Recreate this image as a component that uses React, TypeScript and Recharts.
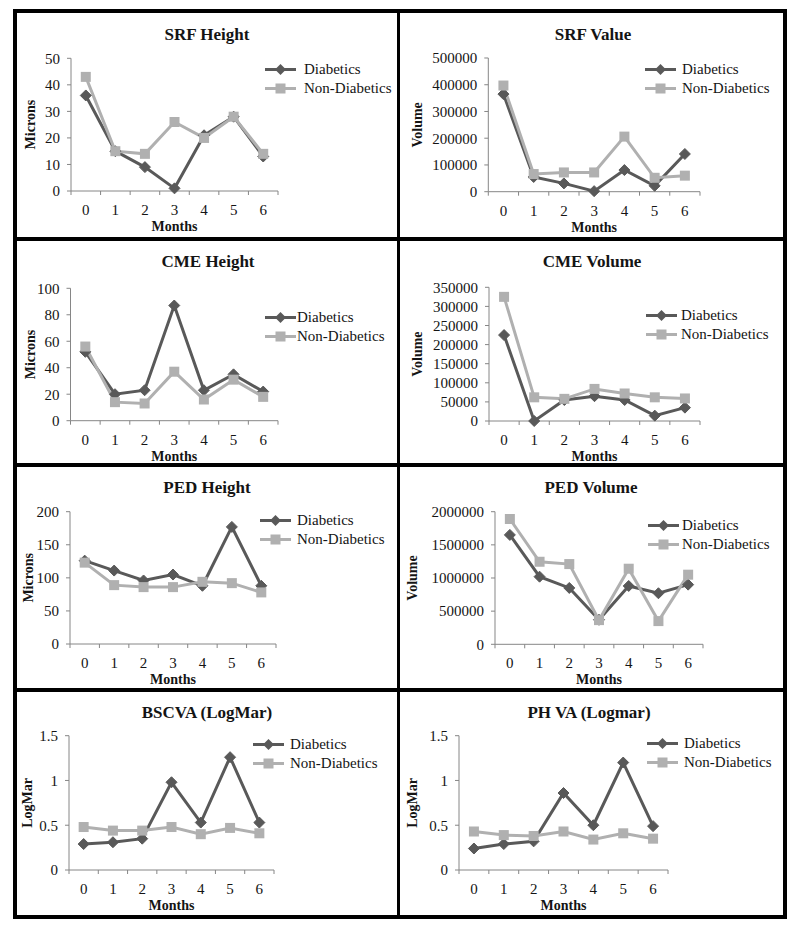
import React from 'react';
import { LineChart, Line, XAxis, YAxis, Legend } from 'recharts';

const FONT = "'Liberation Serif', 'Times New Roman', Times, serif";
const DARK = '#595959';
const LIGHT = '#b0b0b0';
const AXIS = '#868686';
const TEXT = '#141414';

// ---- data ----
const months = [0, 1, 2, 3, 4, 5, 6];
const bandEdges = [-0.5, 0.5, 1.5, 2.5, 3.5, 4.5, 5.5, 6.5];
const seriesNames = ['Diabetics', 'Non-Diabetics'];

const srfHeightDiabetic = [36, 15, 9, 1, 21, 28, 13];
const srfHeightNonDiabetic = [43, 15, 14, 26, 20, 28, 14];
const srfValueDiabetic = [365000, 55000, 31000, 2000, 81000, 22000, 141000];
const srfValueNonDiabetic = [397000, 66000, 72000, 72000, 206000, 52000, 60000];
const cmeHeightDiabetic = [52, 20, 23, 87, 23, 35, 22];
const cmeHeightNonDiabetic = [56, 14, 13, 37, 16, 31, 18];
const cmeVolumeDiabetic = [225000, 0, 55000, 65000, 55000, 14000, 35000];
const cmeVolumeNonDiabetic = [325000, 62000, 58000, 84000, 72000, 62000, 59000];
const pedHeightDiabetic = [126, 111, 96, 105, 88, 177, 88];
const pedHeightNonDiabetic = [123, 89, 86, 86, 94, 92, 78];
const pedVolumeDiabetic = [1650000, 1020000, 850000, 370000, 880000, 770000, 900000];
const pedVolumeNonDiabetic = [1890000, 1245000, 1210000, 365000, 1140000, 350000, 1050000];
const bscvaDiabetic = [0.29, 0.31, 0.35, 0.98, 0.53, 1.26, 0.53];
const bscvaNonDiabetic = [0.48, 0.44, 0.44, 0.48, 0.4, 0.47, 0.41];
const phvaDiabetic = [0.24, 0.29, 0.32, 0.86, 0.5, 1.2, 0.49];
const phvaNonDiabetic = [0.43, 0.39, 0.38, 0.43, 0.34, 0.41, 0.35];

const ticksSrfHeight = [0, 10, 20, 30, 40, 50];
const ticksSrfValue = [0, 100000, 200000, 300000, 400000, 500000];
const ticksCmeHeight = [0, 20, 40, 60, 80, 100];
const ticksCmeVolume = [0, 50000, 100000, 150000, 200000, 250000, 300000, 350000];
const ticksPedHeight = [0, 50, 100, 150, 200];
const ticksPedVolume = [0, 500000, 1000000, 1500000, 2000000];
const ticksLogMar = [0, 0.5, 1, 1.5];

// ---- layout (page coordinates) ----
const panels = [
  { title: 'SRF Height', yLabel: 'Microns', d: srfHeightDiabetic, nd: srfHeightNonDiabetic, yTicks: ticksSrfHeight,
    x0: 17, y0: 13, pl: 71, pr: 278, pt: 58.3, pb: 191, titleX: 207, titleY: 35, legX: 265, legY: 69, legGap: 8, yLabelX: 31 },
  { title: 'SRF Value', yLabel: 'Volume', d: srfValueDiabetic, nd: srfValueNonDiabetic, yTicks: ticksSrfValue,
    x0: 400, y0: 13, pl: 488.3, pr: 700, pt: 58, pb: 191.7, titleX: 593, titleY: 35, legX: 645, legY: 69, legGap: 6, yLabelX: 417 },
  { title: 'CME Height', yLabel: 'Microns', d: cmeHeightDiabetic, nd: cmeHeightNonDiabetic, yTicks: ticksCmeHeight,
    x0: 17, y0: 241, pl: 70.5, pr: 278, pt: 288.3, pb: 420.7, titleX: 208, titleY: 262, legX: 265, legY: 317, legGap: 1, yLabelX: 30 },
  { title: 'CME Volume', yLabel: 'Volume', d: cmeVolumeDiabetic, nd: cmeVolumeNonDiabetic, yTicks: ticksCmeVolume,
    x0: 400, y0: 241, pl: 489, pr: 700, pt: 287.3, pb: 421, titleX: 592, titleY: 262, legX: 646, legY: 315, legGap: 4, yLabelX: 418 },
  { title: 'PED Height', yLabel: 'Microns', d: pedHeightDiabetic, nd: pedHeightNonDiabetic, yTicks: ticksPedHeight,
    x0: 17, y0: 467, pl: 70, pr: 276, pt: 511.7, pb: 644, titleX: 207, titleY: 488, legX: 260, legY: 520, legGap: 6, yLabelX: 29 },
  { title: 'PED Volume', yLabel: 'Volume', d: pedVolumeDiabetic, nd: pedVolumeNonDiabetic, yTicks: ticksPedVolume,
    x0: 400, y0: 467, pl: 495, pr: 703, pt: 511.7, pb: 644.3, titleX: 591, titleY: 488, legX: 648, legY: 525, legGap: 3, yLabelX: 413 },
  { title: 'BSCVA (LogMar)', yLabel: 'LogMar', d: bscvaDiabetic, nd: bscvaNonDiabetic, yTicks: ticksLogMar,
    x0: 17, y0: 692, pl: 69, pr: 274, pt: 735.7, pb: 870, titleX: 207, titleY: 713, legX: 253, legY: 744, legGap: 6, yLabelX: 28 },
  { title: 'PH VA (Logmar)', yLabel: 'LogMar', d: phvaDiabetic, nd: phvaNonDiabetic, yTicks: ticksLogMar,
    x0: 400, y0: 692, pl: 459, pr: 668, pt: 735.7, pb: 870, titleX: 589, titleY: 713, legX: 647, legY: 743, legGap: 6, yLabelX: 413 },
];

const CHART_W = 383;
const X_AXIS_H = 45;
const LEG_LINE = 31;
const LEG_ROW = 19;

const renderDiamond = (p: any) => {
  const { cx, cy, index } = p;
  if (cx == null || cy == null) return <g key={`dd${index}`} />;
  const r = 5.5;
  return (
    <polygon key={`dd${index}`} points={`${cx},${cy - r} ${cx + r},${cy} ${cx},${cy + r} ${cx - r},${cy}`} fill={DARK} stroke={DARK} strokeWidth={1} />
  );
};

const renderSquare = (p: any) => {
  const { cx, cy, index } = p;
  if (cx == null || cy == null) return <g key={`sq${index}`} />;
  const s = 5;
  return <rect key={`sq${index}`} x={cx - s} y={cy - s} width={2 * s} height={2 * s} fill={LIGHT} />;
};

const renderXTick = (props: any) => {
  const { x, y, payload } = props;
  const v = payload.value;
  if (Number.isInteger(v)) {
    return (
      <text x={x} y={y + 24} textAnchor="middle" fill={TEXT} fontSize={15} fontFamily={FONT}>
        {v}
      </text>
    );
  }
  return <line x1={x} x2={x} y1={y} y2={y + 4} stroke={AXIS} strokeWidth={1} />;
};

const makeMonthsLabel = () => (props: any) => {
  const vb = props.viewBox || {};
  const x = vb.x + vb.width / 2;
  const y = vb.y + 40;
  return (
    <text x={x} y={y} textAnchor="middle" fill={TEXT} fontSize={14} fontWeight="bold" fontFamily={FONT}>
      Months
    </text>
  );
};

const makeYLabel = (text: string, cx: number) => (props: any) => {
  const vb = props.viewBox || {};
  const cy = vb.y + vb.height / 2;
  return (
    <text
      x={cx}
      y={cy}
      transform={`rotate(-90 ${cx} ${cy})`}
      textAnchor="middle"
      dominantBaseline="central"
      fill={TEXT}
      fontSize={14}
      fontWeight="bold"
      fontFamily={FONT}
    >
      {text}
    </text>
  );
};

const makeLegend = (gap: number) => (props: any) => {
  const payload = props.payload || [];
  return (
    <div style={{ fontFamily: FONT, fontSize: 15, color: TEXT }}>
      {payload.map((e: any, i: number) => {
        const isD = e.value === seriesNames[0];
        const color = isD ? DARK : LIGHT;
        const mid = LEG_LINE / 2;
        const c = LEG_ROW / 2;
        return (
          <div key={i} style={{ display: 'flex', alignItems: 'center', height: LEG_ROW, whiteSpace: 'nowrap' }}>
            <svg width={LEG_LINE} height={LEG_ROW} style={{ display: 'block' }}>
              <line x1={0} x2={LEG_LINE} y1={c} y2={c} stroke={color} strokeWidth={3} />
              {isD ? (
                <polygon points={`${mid},${c - 5.5} ${mid + 5.5},${c} ${mid},${c + 5.5} ${mid - 5.5},${c}`} fill={DARK} />
              ) : (
                <rect x={mid - 5} y={c - 5} width={10} height={10} fill={LIGHT} />
              )}
            </svg>
            <span style={{ marginLeft: gap, lineHeight: `${LEG_ROW}px` }}>{e.value}</span>
          </div>
        );
      })}
    </div>
  );
};

function Panel({ cfg }: { cfg: any }) {
  const data = months.map((m, i) => ({ m, d: cfg.d[i], nd: cfg.nd[i] }));
  const yAxisW = cfg.pl - cfg.x0;
  const H = cfg.pb - cfg.y0 + X_AXIS_H;
  const margin = { top: cfg.pt - cfg.y0, right: CHART_W - (cfg.pr - cfg.x0), bottom: 0, left: 0 };
  const yMax = cfg.yTicks[cfg.yTicks.length - 1];
  const xTicks = [...bandEdges, ...months].sort((a, b) => a - b);
  return (
    <>
      <div
        style={{
          position: 'absolute',
          left: cfg.titleX - 150,
          top: cfg.titleY - 11,
          width: 300,
          height: 22,
          lineHeight: '22px',
          textAlign: 'center',
          fontFamily: FONT,
          fontWeight: 'bold',
          fontSize: 17,
          color: TEXT,
        }}
      >
        {cfg.title}
      </div>
      <div style={{ position: 'absolute', left: cfg.x0, top: cfg.y0 }}>
        <LineChart width={CHART_W} height={H} data={data} margin={margin}>
          <XAxis
            dataKey="m"
            type="number"
            domain={[-0.5, 6.5]}
            ticks={xTicks}
            interval={0}
            tick={renderXTick}
            tickLine={false}
            tickSize={0}
            tickMargin={0}
            height={X_AXIS_H}
            stroke={AXIS}
            label={{ content: makeMonthsLabel() } as any}
          />
          <YAxis
            type="number"
            domain={[0, yMax]}
            ticks={cfg.yTicks}
            interval={0}
            width={yAxisW}
            tickSize={4}
            tickMargin={7}
            stroke={AXIS}
            tick={{ fill: TEXT, fontSize: 15, fontFamily: FONT }}
            label={{ content: makeYLabel(cfg.yLabel, cfg.yLabelX - cfg.x0) } as any}
          />
          <Line
            type="linear"
            dataKey="d"
            name={seriesNames[0]}
            stroke={DARK}
            strokeWidth={3}
            dot={renderDiamond}
            activeDot={false}
            isAnimationActive={false}
          />
          <Line
            type="linear"
            dataKey="nd"
            name={seriesNames[1]}
            stroke={LIGHT}
            strokeWidth={3}
            dot={renderSquare}
            activeDot={false}
            isAnimationActive={false}
          />
          <Legend
            layout="horizontal"
            align="center"
            verticalAlign="middle"
            content={makeLegend(cfg.legGap)}
            wrapperStyle={{
              left: cfg.legX - cfg.x0,
              top: cfg.legY - cfg.y0 - LEG_ROW / 2,
              width: 'auto',
              height: 'auto',
            }}
          />
        </LineChart>
      </div>
    </>
  );
}

export default function App() {
  const black = '#000';
  return (
    <div style={{ position: 'absolute', left: 0, top: 0, width: 800, height: 928, background: '#fff', overflow: 'hidden' }}>
      {panels.map((cfg, i) => (
        <Panel key={i} cfg={cfg} />
      ))}
      <div style={{ position: 'absolute', left: 13, top: 9, width: 774, height: 910, border: `4px solid ${black}`, boxSizing: 'border-box' }} />
      <div style={{ position: 'absolute', left: 397, top: 9, width: 3, height: 910, background: black }} />
      <div style={{ position: 'absolute', left: 13, top: 237, width: 774, height: 4, background: black }} />
      <div style={{ position: 'absolute', left: 13, top: 463, width: 774, height: 4, background: black }} />
      <div style={{ position: 'absolute', left: 13, top: 688, width: 774, height: 4, background: black }} />
    </div>
  );
}
